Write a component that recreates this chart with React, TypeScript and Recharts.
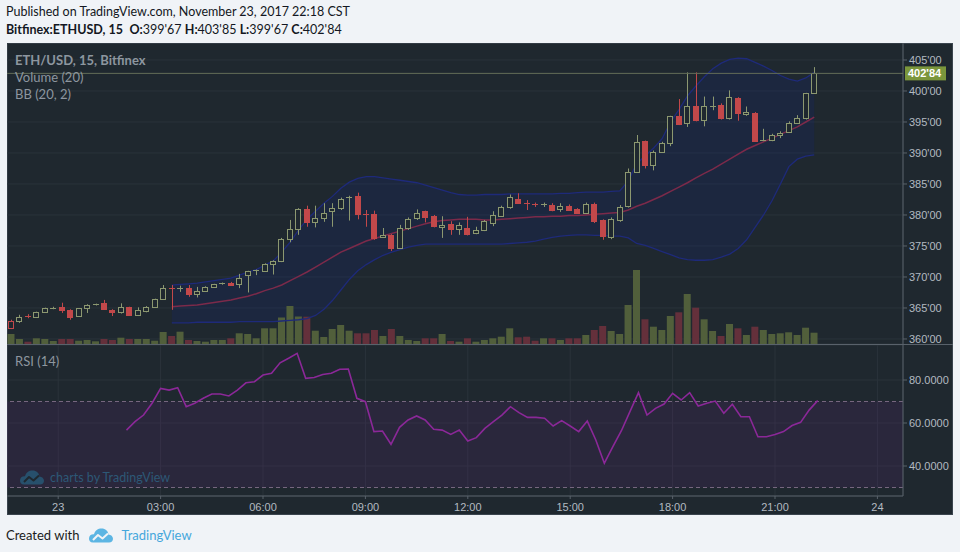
import React from 'react';
import {
  ComposedChart, Bar, Line, Area, XAxis, YAxis, CartesianGrid,
  ReferenceLine, ReferenceArea, Cell,
} from 'recharts';

// ---------- DATA (15-minute bars, Bitfinex ETH/USD) ----------
const opens = [
  361.73, 362.95, 363.7, 363.55, 364.3, 364.95, 365.1, 364.7, 363.7, 364.95,
  365.5, 365.75, 364.6, 364.4, 365.1, 363.9, 364.5, 365.2, 366.4, 368.3,
  368.1, 368.3, 367.2, 367.7, 368.45, 368.8, 369.1, 368.8, 370.3, 370.9,
  371.0, 372.1, 372.5, 376.1, 377.8, 381.0, 378.9, 379.5, 380.6, 381.2,
  382.7, 383.0, 380.2, 380.1, 376.4, 376.7, 374.7, 377.95, 379.5, 380.6,
  379.8, 378.1, 378.5, 377.7, 377.9, 377.05, 377.6, 378.7, 379.9, 381.3,
  382.6, 382.0, 381.8, 381.6, 381.6, 380.9, 381.5, 380.95, 380.4, 381.8,
  379.2, 376.5, 379.2, 381.4, 387.0, 391.9, 388.1, 390.2, 391.6, 395.9,
  394.8, 397.5, 395.4, 397.4, 397.7, 395.6, 398.9, 396.3, 396.5, 392.0,
  392.1, 392.9, 393.4, 394.9, 395.6, 399.67,
];
const highs = [
  363.1, 363.9, 364.0, 364.4, 365.05, 365.2, 365.85, 364.8, 365.0, 365.6,
  365.7, 366.3, 364.8, 365.75, 365.2, 365.1, 365.3, 366.5, 368.7, 368.7,
  368.6, 368.7, 368.4, 368.5, 368.9, 369.1, 369.2, 370.5, 371.0, 371.2,
  372.2, 372.7, 376.3, 379.2, 381.1, 381.5, 381.5, 381.9, 381.9, 382.8,
  383.1, 383.6, 380.8, 380.7, 377.9, 376.9, 378.4, 379.6, 380.9, 380.7,
  380.0, 379.8, 379.0, 378.8, 379.7, 378.1, 379.2, 380.6, 381.5, 383.3,
  383.5, 382.4, 382.0, 382.0, 381.9, 381.9, 381.7, 381.1, 382.0, 382.0,
  379.3, 379.6, 381.6, 387.5, 392.9, 392.0, 390.4, 391.8, 396.0, 398.7,
  403.0, 403.0, 399.1, 399.1, 398.0, 400.1, 399.0, 397.5, 396.6, 393.9,
  393.1, 393.5, 395.1, 396.1, 399.7, 403.85,
];
const lows = [
  361.6, 362.6, 363.35, 363.5, 364.2, 364.8, 364.2, 363.1, 363.6, 364.2,
  365.4, 364.7, 363.7, 364.1, 363.8, 363.7, 364.3, 365.1, 366.3, 364.7,
  367.6, 366.8, 366.7, 367.6, 368.3, 368.75, 368.6, 368.2, 367.5, 370.3,
  370.9, 370.4, 372.4, 375.6, 376.8, 378.1, 378.0, 378.9, 378.1, 380.8,
  379.1, 379.3, 378.1, 376.0, 376.3, 374.2, 374.6, 377.6, 379.2, 378.8,
  378.0, 376.3, 376.8, 376.8, 376.7, 376.9, 377.4, 378.2, 379.7, 381.0,
  381.8, 380.8, 381.3, 381.3, 380.6, 380.5, 380.7, 380.2, 380.2, 378.7,
  376.0, 376.1, 378.9, 381.2, 386.9, 387.5, 387.2, 390.0, 391.1, 394.5,
  394.2, 395.1, 394.3, 396.9, 395.4, 395.4, 395.2, 396.0, 391.9, 391.9,
  391.9, 392.4, 393.3, 394.8, 395.4, 399.67,
];
const closes = [
  362.95, 363.6, 363.55, 364.3, 364.95, 365.05, 364.75, 363.6, 364.95, 365.5,
  365.6, 364.8, 364.3, 365.2, 363.9, 364.7, 365.2, 366.4, 368.2, 368.1,
  368.3, 367.2, 367.7, 368.4, 368.8, 369.0, 368.7, 369.8, 370.9, 371.1,
  372.1, 372.5, 376.1, 377.7, 381.0, 378.8, 379.5, 380.4, 381.2, 382.6,
  382.9, 380.2, 380.0, 376.25, 376.7, 374.6, 377.85, 379.3, 380.4, 379.7,
  378.2, 378.4, 377.7, 378.4, 376.9, 377.5, 379.0, 380.0, 381.35, 382.85,
  381.9, 381.8, 381.6, 381.7, 380.8, 381.5, 380.8, 380.3, 381.8, 379.0,
  376.6, 379.3, 381.35, 387.0, 391.8, 388.0, 390.2, 391.6, 395.9, 394.7,
  397.5, 395.3, 397.5, 397.6, 395.6, 399.0, 396.4, 396.6, 392.0, 392.1,
  392.9, 393.3, 394.9, 395.6, 399.6, 402.84,
];
const closeBeforeFirst = 363.2;
const volumes = [
  10, 5, 2.3, 5.7, 5, 3, 5, 5, 3.3, 4,
  2.7, 5, 4, 6.3, 5, 5, 5, 3.3, 12, 8,
  12.3, 4, 3, 2.3, 4, 4, 5.7, 10.7, 10, 5.7,
  15.7, 15.7, 26.5, 38, 27.5, 27.3, 13.3, 7, 15, 19,
  13.3, 10.7, 10.7, 14, 8, 15, 8, 4, 3, 5.7,
  5.7, 10, 3, 2.3, 5.7, 2.3, 4, 5.7, 7.3, 15.7,
  6.7, 7.3, 3.3, 5.7, 5.7, 4, 5.7, 5.7, 9, 14,
  18, 13, 10, 39, 74, 24.7, 17.3, 14, 28, 31.7,
  50, 36.3, 24.7, 13, 8, 20, 15.7, 9, 17.3, 14,
  10, 10.7, 11.7, 9, 16.3, 11.3,
];

// Bollinger Bands (20, 2) – first value at bar 19
const BB_START = 19;
const bbUpper = [
  368.7, 368.8, 368.9, 369.0, 369.2, 369.4, 369.6, 369.8, 370.3, 370.8,
  371.2, 371.9, 372.6, 374.0, 375.6, 377.6, 379.3, 380.6, 381.9, 383.0,
  384.3, 385.3, 385.9, 386.2, 386.2, 386.0, 385.8, 385.6, 385.4, 385.2,
  384.8, 384.4, 384.0, 383.6, 383.3, 383.2, 383.2, 383.3, 383.3, 383.3,
  383.4, 383.4, 383.4, 383.4, 383.4, 383.4, 383.5, 383.5, 383.6, 383.7,
  383.7, 383.7, 383.8, 383.9, 385.5, 388.3, 389.5, 390.8, 392.3, 395.0,
  397.0, 399.2, 400.8, 402.3, 403.6, 404.5, 405.1, 405.3, 405.2, 404.6,
  404.0, 403.3, 402.5, 401.9, 401.6, 402.1, 403.0,
];
const bbBasis = [
  365.2, 365.3, 365.4, 365.5, 365.7, 365.9, 366.1, 366.3, 366.6, 366.9,
  367.3, 367.8, 368.2, 368.7, 369.4, 370.1, 370.8, 371.6, 372.4, 373.2,
  374.0, 374.6, 375.2, 375.8, 376.2, 376.6, 377.0, 377.4, 377.8, 378.2,
  378.6, 378.9, 379.1, 379.2, 379.3, 379.3, 379.3, 379.2, 379.2, 379.3,
  379.4, 379.5, 379.6, 379.7, 379.7, 379.8, 379.8, 379.9, 379.9, 380.0,
  380.1, 380.2, 380.3, 380.4, 380.8, 381.4, 381.9, 382.5, 383.1, 383.8,
  384.5, 385.2, 386.0, 386.7, 387.4, 388.2, 389.0, 389.8, 390.6, 391.2,
  391.8, 392.4, 393.0, 393.6, 394.2, 395.0, 395.8,
];
const bbLower = [
  362.6, 362.6, 362.6, 362.7, 362.7, 362.7, 362.7, 362.7, 362.8, 362.8,
  362.8, 362.8, 362.8, 362.9, 363.0, 363.1, 363.3, 363.8, 364.8, 366.2,
  367.9, 369.6, 371.0, 372.0, 372.8, 373.5, 374.0, 374.4, 374.8, 375.1,
  375.3, 375.3, 375.3, 375.3, 375.3, 375.3, 375.3, 375.3, 375.3, 375.3,
  375.4, 375.5, 375.6, 375.8, 376.1, 376.4, 376.6, 376.7, 376.8, 376.8,
  376.7, 376.7, 376.6, 376.6, 376.3, 375.4, 375.1, 374.6, 374.1, 373.6,
  373.1, 372.8, 372.7, 372.7, 372.8, 373.2, 373.7, 374.6, 376.0, 378.0,
  380.0, 382.3, 385.0, 387.8, 389.0, 389.5, 389.7,
];

// RSI (14) – first value at bar 14
const RSI_START = 14;
const rsiValues = [
  56.7, 60.6, 63.7, 69.2, 76.1, 75.3, 76.4, 67.6, 69.2, 71.5,
  73.5, 73.5, 72.6, 75.3, 78.7, 79.2, 82.3, 83.1, 88.0, 90.1,
  92.4, 80.8, 81.2, 82.6, 83.1, 85.0, 85.1, 71.5, 69.9, 56.0,
  56.3, 50.1, 58.0, 61.4, 63.3, 61.4, 57.1, 56.7, 54.7, 56.7,
  51.6, 53.2, 57.5, 60.6, 63.7, 67.6, 64.8, 62.6, 62.6, 62.2,
  58.6, 61.1, 58.6, 56.0, 60.9, 52.1, 41.3, 49.0, 56.4, 65.3,
  74.1, 63.7, 66.8, 68.8, 73.8, 70.7, 74.1, 67.9, 69.2, 70.2,
  64.5, 68.7, 62.9, 62.9, 53.6, 53.6, 54.7, 56.0, 58.8, 60.3,
  66.0, 70.4,
];

const SLOTS = 106; // bars incl. empty future space up to the right edge
const timeTicks = [6, 18, 30, 42, 54, 66, 78, 90, 102];
const timeLabels = ['23', '03:00', '06:00', '09:00', '12:00', '15:00', '18:00', '21:00', '24'];
const priceTicks = [360, 365, 370, 375, 380, 385, 390, 395, 400, 405];
const rsiTicks = [40, 60, 80];
const PRICE_DOMAIN: [number, number] = [359.19, 407.74];
const RSI_DOMAIN: [number, number] = [26.05, 96.28];
const VOL_DOMAIN: [number, number] = [0, 301];

// ---------- STYLE ----------
const PAGE_BG = '#f0f3f7';
const BG = '#1f282f';
const GRID = '#2a333b';
const AXIS_LINE = '#59626b';
const AXIS_TEXT = '#b3bac1';
const UP = '#8c9870';
const DOWN = '#c2484a';
const VOL_UP = '#515f3b';
const VOL_DOWN = '#64303b';
const AXIS_FONT = '"Liberation Sans", Arial, sans-serif';
const UI_FONT = 'Lato, "Open Sans", sans-serif';

const fmtPrice = (v: number) => v.toFixed(2).replace('.', "'");

const rows = Array.from({ length: SLOTS }, (_, i) => {
  const has = i < closes.length;
  const bi = i - BB_START;
  const hasBB = bi >= 0 && bi < bbUpper.length;
  const ri = i - RSI_START;
  const hasRsi = ri >= 0 && ri < rsiValues.length;
  return {
    i,
    hl: has ? [lows[i], highs[i]] : null,
    o: has ? opens[i] : null,
    h: has ? highs[i] : null,
    l: has ? lows[i] : null,
    c: has ? closes[i] : null,
    pc: has ? (i === 0 ? closeBeforeFirst : closes[i - 1]) : null,
    vol: has ? volumes[i] : null,
    upper: hasBB ? bbUpper[bi] : null,
    basis: hasBB ? bbBasis[bi] : null,
    lower: hasBB ? bbLower[bi] : null,
    band: hasBB ? [bbLower[bi], bbUpper[bi]] : null,
    rsi: hasRsi ? rsiValues[ri] : null,
  };
});

const Candle = (props: any) => {
  const { x, y, width, height, payload } = props;
  if (!payload || payload.o == null || x == null) return null;
  const { o, h, l, c, pc } = payload;
  const color = c >= pc ? UP : DOWN;
  const filled = c < o;
  const range = h - l;
  const py = (v: number) => (range > 0 ? y + ((h - v) / range) * height : y);
  const n = Math.round(x + width / 2);
  const cx = n + 0.5;
  const top = Math.round(py(Math.max(o, c))) + 0.5;
  let bot = Math.round(py(Math.min(o, c))) + 0.5;
  const hy = py(h);
  const ly = py(l);
  const flat = bot - top < 1.5;
  if (flat) bot = top;
  return (
    <g>
      <line x1={cx} x2={cx} y1={hy} y2={top} stroke={color} strokeWidth={1} />
      <line x1={cx} x2={cx} y1={bot} y2={ly} stroke={color} strokeWidth={1} />
      {flat ? (
        <line x1={n - 3} x2={n + 3} y1={top} y2={top} stroke={color} strokeWidth={1} />
      ) : (
        <rect x={n - 2.5} y={top} width={5} height={bot - top}
          fill={filled ? color : BG} stroke={color} strokeWidth={1} />
      )}
    </g>
  );
};

const LastPriceLabel = (props: any) => {
  const vb = props.viewBox || {};
  const x0 = vb.x + vb.width + 2;
  const y0 = vb.y;
  return (
    <g>
      <rect x={x0} y={y0 - 7} width={41} height={14} fill="#7b963c" />
      <text x={x0 + 3} y={y0 + 4} fill="#ffffff" fontSize={11} fontWeight={700}
        fontFamily={AXIS_FONT}>{fmtPrice(closes[closes.length - 1])}</text>
    </g>
  );
};

const Logo = ({ color, line, w = 24, h = 15 }: { color: string; line: string; w?: number; h?: number }) => (
  <svg width={w} height={h} viewBox="0 0 24 15">
    <path d="M4 14.5 C1 14.5 0 12.5 0 10.5 C0 7.5 2.5 6 5 6.3 C6 2.5 9 0.5 12.5 0.5 C16.5 0.5 19 3 19.5 6.5 C22 6.7 24 8.5 24 10.8 C24 13 22.5 14.5 20 14.5 Z" fill={color} />
    <polyline points="4,12 9,7 13.5,10.5 19,5.5" fill="none" stroke={line} strokeWidth={2} strokeLinejoin="round" />
  </svg>
);

const abs = (left: number, top: number, extra: React.CSSProperties = {}): React.CSSProperties => ({
  position: 'absolute', left, top, ...extra,
});

export default function App() {
  const chartW = 946;
  const priceH = 301;
  const axisTick = { fill: AXIS_TEXT, fontSize: 11, fontFamily: AXIS_FONT };
  const last = closes.length - 1;
  return (
    <div style={{ position: 'fixed', left: 0, top: 0, width: 960, height: 552, background: PAGE_BG, overflow: 'hidden' }}>
      {/* header */}
      <div style={abs(6, 4, { fontFamily: UI_FONT, fontSize: 12.5, lineHeight: '16px', color: '#131722', whiteSpace: 'nowrap' })}>
        Published on TradingView.com, November 23, 2017 22:18 CST
      </div>
      <div style={abs(6, 22, { fontFamily: UI_FONT, fontSize: 12.5, lineHeight: '16px', color: '#131722', whiteSpace: 'pre' })}>
        <b>Bitfinex:ETHUSD, 15</b>{'  '}
        <b>O:</b>{fmtPrice(opens[last])}{' '}<b>H:</b>{fmtPrice(highs[last])}{' '}<b>L:</b>{fmtPrice(lows[last])}{' '}<b>C:</b>{fmtPrice(closes[last])}
      </div>

      {/* dark chart box */}
      <div style={abs(7, 43, { width: chartW, height: 472, background: BG, boxShadow: 'inset 0 0 0 1px #3a444e' })} />

      {/* price pane: grid, axis, volume, BB */}
      <div style={abs(7, 43)}>
        <ComposedChart width={chartW} height={priceH} data={rows} margin={{ top: 0, right: 0, bottom: 0, left: 0 }} barCategoryGap={0.5}>
          <CartesianGrid stroke={GRID} strokeWidth={1} />
          <XAxis dataKey="i" type="category" ticks={timeTicks} interval={0} height={0} tick={false} axisLine={false} tickLine={false} />
          <YAxis orientation="right" domain={PRICE_DOMAIN} ticks={priceTicks} interval={0} allowDataOverflow width={50}
            tickFormatter={fmtPrice} tick={axisTick} tickLine={{ stroke: AXIS_LINE }} axisLine={{ stroke: AXIS_LINE }} tickSize={4} tickMargin={2} />
          <YAxis yAxisId="v" hide domain={VOL_DOMAIN} allowDataOverflow />
          <Bar yAxisId="v" dataKey="vol" isAnimationActive={false}>
            {rows.map((r) => (
              <Cell key={r.i} fill={r.c != null && r.o != null && r.c >= r.o ? VOL_UP : VOL_DOWN} />
            ))}
          </Bar>
          <Area dataKey="band" stroke="none" fill="#0d1f9a" fillOpacity={0.15} isAnimationActive={false} dot={false} activeDot={false} />
          <Line dataKey="upper" stroke="#1e2a7a" strokeWidth={1.3} dot={false} activeDot={false} isAnimationActive={false} />
          <Line dataKey="lower" stroke="#1e2a7a" strokeWidth={1.3} dot={false} activeDot={false} isAnimationActive={false} />
          <Line dataKey="basis" stroke="#7c2a4a" strokeWidth={1.5} dot={false} activeDot={false} isAnimationActive={false} />
        </ComposedChart>
      </div>

      {/* price pane overlay: candles + last price */}
      <div style={abs(7, 43)}>
        <ComposedChart width={chartW} height={priceH} data={rows} margin={{ top: 0, right: 50, bottom: 0, left: 0 }}>
          <XAxis dataKey="i" type="category" hide />
          <YAxis hide domain={PRICE_DOMAIN} allowDataOverflow />
          <ReferenceLine y={closes[last]} stroke="#646d58" strokeWidth={1} label={<LastPriceLabel />} />
          <Bar dataKey="hl" barSize={6} isAnimationActive={false} shape={(p: any) => <Candle {...p} />} />
        </ComposedChart>
      </div>

      {/* pane separator */}
      <div style={abs(7, 344, { width: chartW, height: 1, background: AXIS_LINE })} />

      {/* RSI pane */}
      <div style={abs(7, 345)}>
        <ComposedChart width={chartW} height={170} data={rows} margin={{ top: 0, right: 0, bottom: 0, left: 0 }}>
          <CartesianGrid stroke={GRID} strokeWidth={1} />
          <XAxis dataKey="i" type="category" ticks={timeTicks} interval={0} height={19}
            tickFormatter={(v: number) => timeLabels[timeTicks.indexOf(v)] ?? ''}
            tick={axisTick} tickLine={{ stroke: AXIS_LINE }} axisLine={{ stroke: AXIS_LINE }} tickSize={3} tickMargin={4} />
          <YAxis orientation="right" domain={RSI_DOMAIN} ticks={rsiTicks} interval={0} allowDataOverflow width={50}
            tickFormatter={(v: number) => v.toFixed(4)} tick={axisTick} tickLine={{ stroke: AXIS_LINE }} axisLine={{ stroke: AXIS_LINE }} tickSize={4} tickMargin={2} />
          <ReferenceArea y1={30} y2={70} fill="#7e1fa0" fillOpacity={0.12} stroke="none" />
          <ReferenceLine y={70} stroke="#76667f" strokeDasharray="4 3" />
          <ReferenceLine y={30} stroke="#76667f" strokeDasharray="4 3" />
          <Line dataKey="rsi" stroke="#8b2898" strokeWidth={1.6} dot={false} activeDot={false} isAnimationActive={false} />
        </ComposedChart>
      </div>

      {/* legends */}
      <div style={abs(15, 52, { fontFamily: UI_FONT, fontSize: 13, lineHeight: '17px', color: '#8d969f', whiteSpace: 'nowrap' })}>
        <div style={{ fontWeight: 700 }}>ETH/USD, 15, Bitfinex</div>
        <div>Volume (20)</div>
        <div>BB (20, 2)</div>
      </div>
      <div style={abs(15, 353, { fontFamily: UI_FONT, fontSize: 13, lineHeight: '17px', color: '#8d969f' })}>RSI (14)</div>

      {/* watermark */}
      <div style={abs(20, 470, { display: 'flex', alignItems: 'center', gap: 6 })}>
        <Logo color="#27506c" line={BG} />
        <span style={{ fontFamily: UI_FONT, fontSize: 12.5, color: '#2d5876' }}>charts by TradingView</span>
      </div>

      {/* footer */}
      <div style={abs(6, 527, { display: 'flex', alignItems: 'center', fontFamily: UI_FONT, fontSize: 13, whiteSpace: 'nowrap' })}>
        <span style={{ color: '#1b1b1b' }}>Created with</span>
        <span style={{ marginLeft: 10, marginRight: 8, display: 'inline-flex' }}><Logo color="#5cb5e3" line={PAGE_BG} /></span>
        <span style={{ color: '#45a7dc' }}>TradingView</span>
      </div>
    </div>
  );
}
